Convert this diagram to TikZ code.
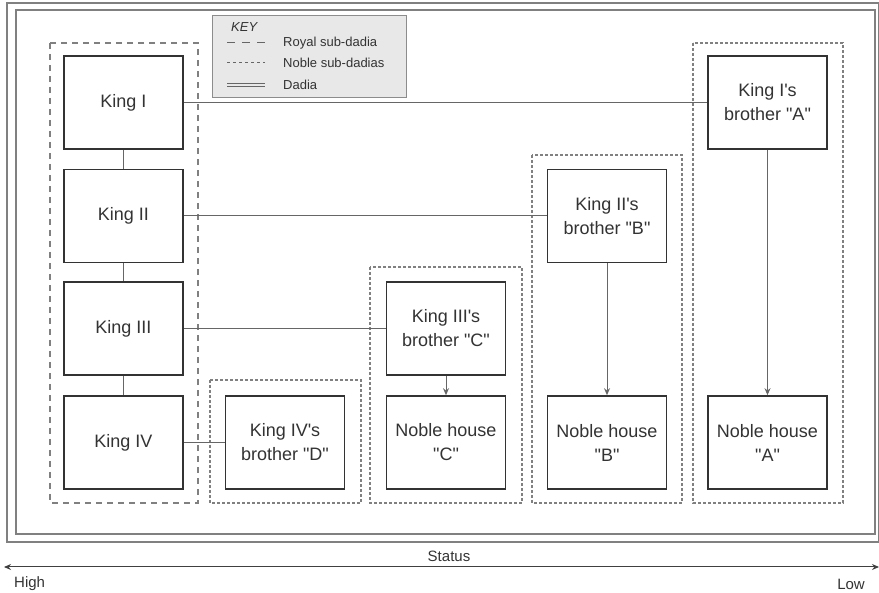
\documentclass[tikz,border=0pt]{standalone}
\usepackage{fontspec}
\setmainfont{Liberation Sans}
\usetikzlibrary{arrows.meta}
\newcommand{\qq}{\textquotedbl}
\begin{document}
\begin{tikzpicture}[x=1pt,y=-1pt,
  kbox/.style={draw=black!80, line width=1.6pt, fill=white, minimum width=119pt, minimum height=93pt,
    font=\fontsize{18}{24}\selectfont, text=black!80, align=center, inner sep=0pt},
  royal/.style={draw=black!50, dash pattern=on 6pt off 5pt, line width=1.2pt},
  noble/.style={draw=black!50, dash pattern=on 2.6pt off 2.4pt, line width=1.2pt},
  frame/.style={draw=black!50, line width=1.2pt},
  conn/.style={draw=black!60, line width=1pt},
  arr/.style={conn, -{Stealth[length=7pt,width=6pt]}},
  keytxt/.style={font=\fontsize{13}{15}\selectfont, text=black!80, anchor=west, inner sep=0pt}]
\useasboundingbox (0,0) rectangle (879,593);
% outer double frame
\draw[frame] (7,3) rectangle (878.5,542);
\draw[frame] (16,10) rectangle (875,534);
% key
\node[draw=black!45, fill=black!9, line width=0.8pt, minimum width=194pt, minimum height=82pt, anchor=north west, inner sep=0pt] (key) at (212,15) {};
\node[keytxt, font=\fontsize{13}{15}\selectfont\itshape] (keyt) at (231,27) {KEY};
\coordinate (k1a) at (227,43); \coordinate (k1b) at (265,43);
\coordinate (k2a) at (227,63); \coordinate (k2b) at (265,63);
\coordinate (k3a) at (227,85); \coordinate (k3b) at (265,85);
\draw[draw=black!60, line width=1pt, dash pattern=on 8pt off 7pt] (k1a) -- (k1b);
\draw[draw=black!60, line width=1pt, dash pattern=on 3pt off 3pt] (k2a) -- (k2b);
\draw[draw=black!60, line width=0.9pt, double=black!9, double distance=1.6pt] (k3a) -- (k3b);
\node[keytxt] (kr) at (283,43) {Royal sub-dadia};
\node[keytxt] (kn) at (283,63) {Noble sub-dadias};
\node[keytxt] (kd) at (283,85) {Dadia};
% sub-dadia frames
\draw[royal] (50,43) rectangle (198,503);
\draw[noble] (693,43) rectangle (843,503);
\draw[noble] (532,155) rectangle (682,503);
\draw[noble] (370,267) rectangle (522,503);
\draw[noble] (210,380) rectangle (361,503);
% boxes
\node[kbox] (k1) at (123.5,102.5) {King I};
\node[kbox] (k2) at (123.5,216) {King II};
\node[kbox] (k3) at (123.5,328.5) {King III};
\node[kbox] (k4) at (123.5,442.5) {King IV};
\node[kbox] (bA) at (767.5,102.5) {King I\textquotesingle s\\brother \qq A\qq};
\node[kbox] (nA) at (767.5,442.5) {Noble house\\\qq A\qq};
\node[kbox] (bB) at (607,216) {King II\textquotesingle s\\brother \qq B\qq};
\node[kbox] (nB) at (607,442.5) {Noble house\\\qq B\qq};
\node[kbox] (bC) at (446,328.5) {King III\textquotesingle s\\brother \qq C\qq};
\node[kbox] (nC) at (446,442.5) {Noble house\\\qq C\qq};
\node[kbox] (bD) at (285,442.5) {King IV\textquotesingle s\\brother \qq D\qq};
% connectors
\draw[conn] (k1) -- (k2);
\draw[conn] (k2) -- (k3);
\draw[conn] (k3) -- (k4);
\draw[conn] (k1) -- (bA);
\draw[conn] (k2) -- (bB);
\draw[conn] (k3) -- (bC);
\draw[conn] (k4) -- (bD);
\draw[arr] (bA) -- (nA);
\draw[arr] (bB) -- (nB);
\draw[arr] (bC) -- (nC);
% status axis
\coordinate (sL) at (4,567); \coordinate (sR) at (879,567);
\draw[draw=black!75, line width=1pt, {Stealth[length=7pt,width=6pt]}-{Stealth[length=7pt,width=6pt]}] (sL) -- (sR);
\node[font=\fontsize{15}{17}\selectfont, text=black!80, inner sep=0pt] (st) at (449,556) {Status};
\node[font=\fontsize{15}{17}\selectfont, text=black!80, inner sep=0pt, anchor=west] (hi) at (14,584) {High};
\node[font=\fontsize{15}{17}\selectfont, text=black!80, inner sep=0pt, anchor=east] (lo) at (865,584) {Low};
\end{tikzpicture}
\end{document}
